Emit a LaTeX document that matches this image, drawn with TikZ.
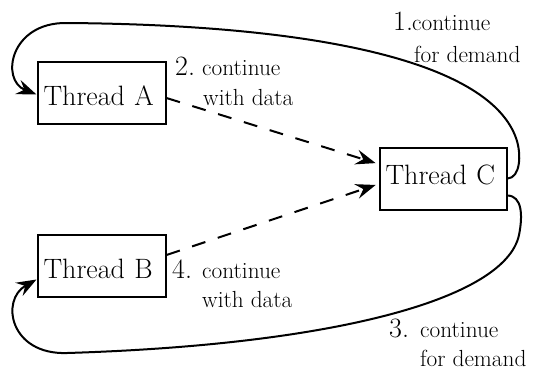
\documentclass[tikz,border=0pt]{standalone}
\usetikzlibrary{arrows.meta,calc}
\begin{document}
\begin{tikzpicture}[x=1pt,y=-1pt,
  thread/.style={draw,line width=2pt,minimum height=62pt,inner xsep=6pt,inner ysep=0pt,
    text width=116pt,align=left,text height=25pt,text depth=0pt,
    font=\fontsize{28}{30}\selectfont},
  num/.style={inner sep=0pt,anchor=base west,font=\fontsize{28}{30}\selectfont},
  lbl/.style={inner sep=0pt,anchor=base west,font=\fontsize{23.3}{26}\selectfont},
  flow/.style={line width=2pt,-{Stealth[length=20pt,width=15pt,inset=7pt]}},
  dataflow/.style={flow,dash pattern=on 14pt off 13pt,shorten >=3pt}]
\useasboundingbox (0,0) rectangle (537,370);

% threads
\node[thread] (A) at (101.5,92.5) {Thread A};
\node[thread] (B) at (101.5,265.5) {Thread B};
\node[thread,text width=115pt,text height=19pt,text depth=8pt] (C) at (443,178.5) {Thread C};

% demand requests from C
\draw[flow] (C.east) .. controls (520,178) and (522,155) .. (516,138)
  .. controls (490,65) and (330,25) .. (67,23)
  .. controls (10,22) and (0,80) .. ($(A.west)+(0,2)$);
\draw[flow] ($(C.east)+(0,17)$) .. controls (522,196) and (523,215) .. (519,235)
  .. controls (505,300) and (330,345) .. (67,353)
  .. controls (10,355) and (0,300) .. ($(B.west)+(0,14)$);

% data sent back to C
\draw[dataflow] ($(A.east)+(0,5.5)$) -- ($(C.west)+(0,-14.5)$);
\draw[dataflow] ($(B.east)+(0,-10.5)$) -- ($(C.west)+(0,5.5)$);

% step labels
\node[num] (n1) at (393,30) {1.};
\node[lbl] (l1a) at (412,30) {continue};
\node[lbl] (l1b) at (414,62) {for demand};

\node[num] (n2) at (175,75) {2.};
\node[lbl] (l2a) at (202,75) {continue};
\node[lbl] (l2b) at (203,105) {with data};

\node[num] (n3) at (389,337) {3.};
\node[lbl] (l3a) at (420,337) {continue};
\node[lbl] (l3b) at (420,366) {for demand};

\node[num] (n4) at (172,278) {4.};
\node[lbl] (l4a) at (202,278) {continue};
\node[lbl] (l4b) at (202,307) {with data};
\end{tikzpicture}
\end{document}
